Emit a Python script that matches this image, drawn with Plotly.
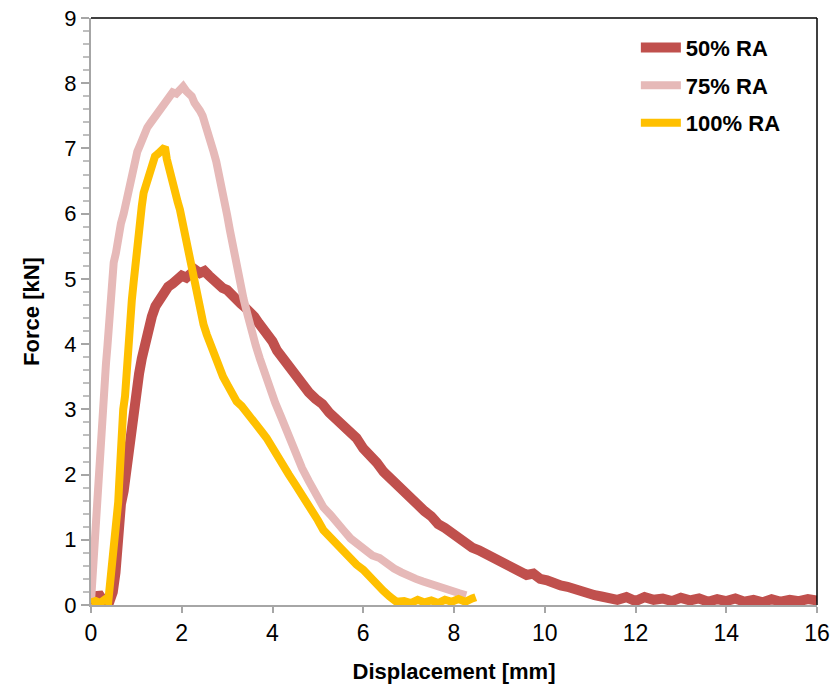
import plotly.graph_objects as go

# ---------------- data ----------------
ra50_x = [0.00, 0.08, 0.16, 0.22, 0.30, 0.40, 0.48, 0.54, 0.58, 0.62, 0.66, 0.72, 0.78, 0.82, 0.86, 0.90,
          0.95, 1.00, 1.06, 1.12, 1.19, 1.26, 1.34, 1.42, 1.50, 1.60, 1.70, 1.80, 1.90, 2.00, 2.10, 2.20,
          2.30, 2.40, 2.50, 2.60, 2.70, 2.80, 2.90, 3.00, 3.10, 3.20, 3.30, 3.40, 3.50, 3.60, 3.70, 3.80,
          3.90, 4.00, 4.10, 4.20, 4.35, 4.50, 4.65, 4.80, 4.95, 5.10, 5.25, 5.40, 5.55, 5.70, 5.85, 6.00,
          6.15, 6.30, 6.45, 6.60, 6.75, 6.90, 7.05, 7.20, 7.35, 7.50, 7.65, 7.80, 7.95, 8.10, 8.25, 8.40,
          8.55, 8.70, 8.85, 9.00, 9.15, 9.30, 9.45, 9.60, 9.75, 9.90, 10.05, 10.20, 10.35, 10.50, 10.65,
          10.80, 10.95, 11.10, 11.25, 11.40, 11.6, 11.8, 12.0, 12.2, 12.4, 12.6, 12.8, 13.0, 13.2, 13.4,
          13.6, 13.8, 14.0, 14.2, 14.4, 14.6, 14.8, 15.0, 15.2, 15.4, 15.6, 15.8, 16.0]
ra50_y = [0.02, 0.05, 0.18, 0.10, 0.03, 0.04, 0.20, 0.50, 0.95, 1.40, 1.55, 1.75, 2.10, 2.40, 2.65, 2.90,
          3.15, 3.35, 3.55, 3.78, 4.05, 4.25, 4.42, 4.58, 4.68, 4.78, 4.88, 4.93, 5.00, 5.05, 5.02, 5.10,
          5.14, 5.09, 5.12, 5.05, 4.98, 4.92, 4.86, 4.83, 4.74, 4.70, 4.62, 4.56, 4.50, 4.42, 4.32, 4.24,
          4.14, 4.04, 3.90, 3.80, 3.68, 3.50, 3.38, 3.26, 3.16, 3.08, 2.95, 2.86, 2.78, 2.66, 2.56, 2.40,
          2.30, 2.18, 2.04, 1.94, 1.82, 1.70, 1.62, 1.52, 1.44, 1.36, 1.24, 1.18, 1.10, 1.04, 0.98, 0.88,
          0.84, 0.78, 0.74, 0.68, 0.60, 0.55, 0.52, 0.46, 0.48, 0.40, 0.38, 0.32, 0.30, 0.28, 0.24,
          0.20, 0.17, 0.15, 0.13, 0.12, 0.08, 0.12, 0.06, 0.12, 0.08, 0.10, 0.06, 0.11, 0.07, 0.10,
          0.05, 0.09, 0.06, 0.10, 0.05, 0.08, 0.04, 0.09, 0.05, 0.08, 0.06, 0.09, 0.07]

ra75_x = [0.00, 0.02, 0.04, 0.07, 0.10, 0.13, 0.16, 0.18, 0.20, 0.22, 0.24, 0.27, 0.31, 0.33, 0.36, 0.39,
          0.42, 0.46, 0.50, 0.55, 0.60, 0.66, 0.72, 0.78, 0.84, 0.90, 0.96, 1.02, 1.08, 1.16, 1.24, 1.32,
          1.40, 1.48, 1.56, 1.64, 1.72, 1.80, 1.88, 1.96, 2.03, 2.10, 2.16, 2.22, 2.28, 2.34, 2.40, 2.46,
          2.52, 2.58, 2.64, 2.70, 2.76, 2.82, 2.88, 2.94, 3.00, 3.06, 3.12, 3.18, 3.24, 3.30, 3.36, 3.45,
          3.54, 3.63, 3.72, 3.82, 3.94, 4.06, 4.18, 4.30, 4.42, 4.53, 4.65, 4.80, 4.97, 5.12, 5.28, 5.42,
          5.56, 5.72, 5.88, 6.04, 6.20, 6.36, 6.52, 6.68, 6.84, 7.00, 7.16, 7.32, 7.48, 7.64, 7.80, 7.96,
          8.12, 8.27]
ra75_y = [0.05, 0.30, 0.55, 0.80, 0.95, 1.25, 1.50, 1.85, 2.15, 2.50, 2.80, 3.05, 3.40, 3.70, 3.95, 4.30,
          4.65, 5.05, 5.25, 5.40, 5.65, 5.85, 6.00, 6.20, 6.40, 6.55, 6.75, 6.95, 7.05, 7.20, 7.32, 7.40,
          7.48, 7.52, 7.62, 7.70, 7.80, 7.86, 7.84, 7.92, 7.95, 7.88, 7.84, 7.80, 7.70, 7.65, 7.58, 7.50,
          7.38, 7.28, 7.10, 6.95, 6.80, 6.62, 6.40, 6.18, 5.98, 5.75, 5.52, 5.32, 5.12, 4.90, 4.70, 4.45,
          4.18, 3.98, 3.78, 3.55, 3.35, 3.10, 2.90, 2.68, 2.46, 2.28, 2.10, 1.90, 1.66, 1.50, 1.38, 1.24,
          1.15, 1.02, 0.94, 0.86, 0.76, 0.72, 0.62, 0.56, 0.50, 0.44, 0.40, 0.36, 0.33, 0.30, 0.26, 0.22,
          0.18, 0.15]

ra100_x = [0.00, 0.10, 0.20, 0.30, 0.38, 0.42, 0.45, 0.50, 0.56, 0.58, 0.60, 0.62, 0.64, 0.66, 0.67, 0.71,
           0.75, 0.77, 0.79, 0.81, 0.83, 0.86, 0.90, 0.94, 0.97, 1.00, 1.04, 1.08, 1.12, 1.16, 1.21, 1.26,
           1.33, 1.41, 1.48, 1.56, 1.63, 1.67, 1.72, 1.77, 1.81, 1.86, 1.91, 1.96, 2.02, 2.07, 2.12, 2.18,
           2.24, 2.30, 2.36, 2.42, 2.48, 2.55, 2.62, 2.70, 2.80, 2.91, 3.02, 3.12, 3.21, 3.32, 3.42, 3.52,
           3.65, 3.76, 3.87, 3.98, 4.10, 4.23, 4.36, 4.50, 4.62, 4.75, 4.88, 5.00, 5.12, 5.25, 5.40, 5.56,
           5.70, 5.85, 6.00, 6.15, 6.29, 6.44, 6.58, 6.73, 6.90, 7.05, 7.20, 7.35, 7.50, 7.65, 7.80, 7.95,
           8.10, 8.25, 8.40, 8.48]
ra100_y = [0.04, 0.06, 0.03, 0.08, 0.05, 0.30, 0.62, 0.85, 1.10, 1.35, 1.58, 1.85, 2.12, 2.45, 2.80, 3.00,
           3.20, 3.45, 3.65, 3.90, 4.17, 4.40, 4.68, 4.95, 5.20, 5.45, 5.70, 5.92, 6.12, 6.32, 6.45, 6.58,
           6.72, 6.88, 6.92, 6.96, 7.02, 6.84, 6.68, 6.52, 6.42, 6.30, 6.18, 6.06, 5.85, 5.65, 5.45, 5.20,
           5.00, 4.82, 4.62, 4.48, 4.30, 4.15, 4.02, 3.85, 3.68, 3.50, 3.36, 3.22, 3.12, 3.05, 2.95, 2.88,
           2.76, 2.66, 2.56, 2.42, 2.28, 2.12, 2.00, 1.85, 1.72, 1.61, 1.45, 1.30, 1.15, 1.05, 0.94, 0.84,
           0.72, 0.62, 0.54, 0.42, 0.33, 0.22, 0.13, 0.05, 0.06, 0.03, 0.08, 0.04, 0.07, 0.03, 0.08, 0.05,
           0.09, 0.05, 0.10, 0.12]

series_names = ["50% RA", "75% RA", "100% RA"]
x_ticks = [0, 2, 4, 6, 8, 10, 12, 14, 16]
y_ticks = [0, 1, 2, 3, 4, 5, 6, 7, 8, 9]

# ---------------- figure ----------------
FONT = "Liberation Sans, Arial, sans-serif"
fig = go.Figure()
styles = [("#C0504D", 10), ("#E6B9B8", 8), ("#FFC000", 8)]
for i, (xs, ys) in enumerate([(ra50_x, ra50_y), (ra75_x, ra75_y), (ra100_x, ra100_y)]):
    col, w = styles[i]
    fig.add_trace(go.Scatter(x=xs, y=ys, mode="lines", name=series_names[i],
                             legendgroup=series_names[i],
                             line=dict(color=col, width=w)))

fig.update_layout(
    width=838, height=692,
    margin=dict(l=91, r=21, t=18, b=87),
    paper_bgcolor="white", plot_bgcolor="white",
    font=dict(family=FONT, color="black"),
    showlegend=True,
    legend=dict(x=0.7505, y=0.985, xanchor="left", yanchor="top",
                font=dict(family=FONT, size=22, weight="bold", color="black"),
                bgcolor="rgba(0,0,0,0)", tracegroupgap=6, itemwidth=40),
    shapes=[
        dict(type="line", xref="paper", yref="paper", x0=0, x1=1, y0=1, y1=1,
             line=dict(color="black", width=1.5)),
        dict(type="line", xref="paper", yref="paper", x0=1, x1=1, y0=0, y1=1,
             line=dict(color="black", width=1.5)),
    ],
)
fig.update_xaxes(range=[0, 16], tickvals=x_ticks, ticks="outside", ticklen=6, tickwidth=1.5,
                 tickcolor="#A6A6A6", showline=True, linecolor="#A6A6A6", linewidth=2,
                 showgrid=False, zeroline=False, automargin=False, ticklabeloverflow="allow",
                 tickfont=dict(family=FONT, size=23, color="black"),
                 title=dict(text="Displacement [mm]", standoff=19,
                            font=dict(family=FONT, size=22, weight="bold", color="black")))
fig.update_yaxes(range=[0, 9], tickvals=y_ticks, ticks="outside", ticklen=8, tickwidth=1.5,
                 tickcolor="#A6A6A6", showline=True, linecolor="#A6A6A6", linewidth=2,
                 showgrid=False, zeroline=False, automargin=False, ticklabeloverflow="allow",
                 minor=dict(dtick=0.2, ticks="outside", ticklen=6, tickcolor="#BFBFBF", tickwidth=1.5),
                 tickfont=dict(family=FONT, size=22, color="black"),
                 title=dict(text="Force [kN]", standoff=19,
                            font=dict(family=FONT, size=22, weight="bold", color="black")))

# remove the browser's default 8 px body margin so the figure sits at the page origin
fig.write_html("out.html",
               config={"displayModeBar": False},
               post_script="document.body.style.margin='0';document.body.style.overflow='hidden';")
